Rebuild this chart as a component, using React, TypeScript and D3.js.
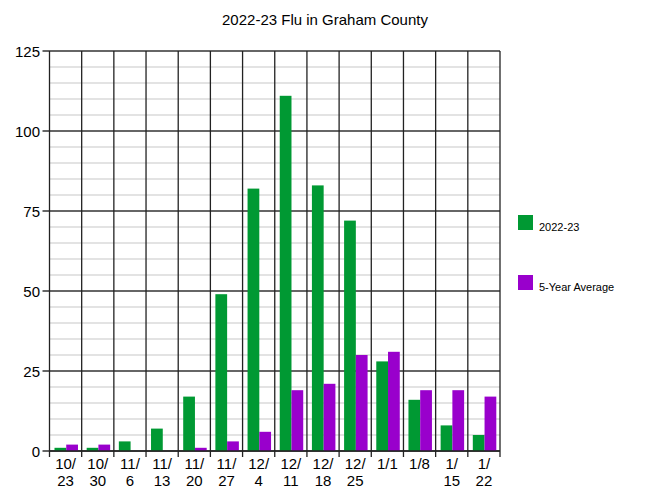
import React from "react";
import * as d3 from "d3";

const categories = ["10/23", "10/30", "11/6", "11/13", "11/20", "11/27", "12/4", "12/11", "12/18", "12/25", "1/1", "1/8", "1/15", "1/22"];
const labelLines = [["10/", "23"], ["10/", "30"], ["11/", "6"], ["11/", "13"], ["11/", "20"], ["11/", "27"], ["12/", "4"], ["12/", "11"], ["12/", "18"], ["12/", "25"], ["1/1"], ["1/8"], ["1/", "15"], ["1/", "22"]];
const current = [1, 1, 3, 7, 17, 49, 82, 111, 83, 72, 28, 16, 8, 5];
const average = [2, 2, 0, 0, 1, 3, 6, 19, 21, 30, 31, 19, 19, 17];
const seriesNames = ["2022-23", "5-Year Average"];
const colors = ["#009933", "#9900cc"];
const yTicks = [0, 25, 50, 75, 100, 125];

export default function App() {
  const W = 648, H = 500;
  const left = 49.5, right = 500, top = 51, bottom = 451;
  const x = d3.scaleBand<string>().domain(categories).range([left, right]);
  const y = d3.scaleLinear().domain([0, 125]).range([bottom, top]);
  const bw = x.bandwidth();
  const inner = d3.scaleBand<number>().domain([0, 1]).range([bw * 0.155, bw * 0.885]);
  const minor = d3.range(0, 126, 5);
  const font = "'Liberation Sans', Arial, sans-serif";
  const series = [current, average];

  return (
    <svg width={W} height={H} style={{ position: "absolute", left: 0, top: 0 }} fontFamily={font}>
      <rect width={W} height={H} fill="#fff" />
      <text x={325} y={25} textAnchor="middle" fontSize={15} fill="#000">2022-23 Flu in Graham County</text>
      {minor.filter((v) => v % 25 !== 0).map((v) => (
        <line key={"m" + v} x1={left} x2={right} y1={y(v)} y2={y(v)} stroke="#c8c8c8" strokeWidth={1.2} />
      ))}
      {yTicks.map((v) => (
        <g key={"y" + v}>
          <line x1={left - 7} x2={right} y1={y(v)} y2={y(v)} stroke="#333" strokeWidth={1.3} />
          <text x={40} y={y(v) + 5.5} textAnchor="end" fontSize={15} fill="#000">{v}</text>
        </g>
      ))}
      {categories.map((c, i) => (
        <line key={"v" + i} x1={x(c)!} x2={x(c)!} y1={top} y2={bottom + 6} stroke="#222" strokeWidth={1.3} />
      ))}
      <line x1={right} x2={right} y1={top} y2={bottom + 6} stroke="#222" strokeWidth={1.3} />
      {series.map((s, si) =>
        s.map((v, i) => (
          <rect key={si + "-" + i} x={x(categories[i])! + inner(si)!} width={inner.bandwidth()} y={y(v)} height={bottom - y(v)} fill={colors[si]} />
        ))
      )}
      <line x1={left} x2={right} y1={bottom} y2={bottom} stroke="#222" strokeWidth={1.3} />
      {categories.map((c, i) => (
        <text key={"l" + i} textAnchor="middle" fontSize={15} fill="#000">
          {labelLines[i].map((t, k) => (
            <tspan key={k} x={x(c)! + bw / 2} y={469 + k * 17}>{t}</tspan>
          ))}
        </text>
      ))}
      {seriesNames.map((n, i) => (
        <g key={"lg" + i}>
          <rect x={518} y={215 + i * 60} width={15} height={15} fill={colors[i]} />
          <text x={539} y={231 + i * 60} fontSize={11} fill="#000">{n}</text>
        </g>
      ))}
    </svg>
  );
}
